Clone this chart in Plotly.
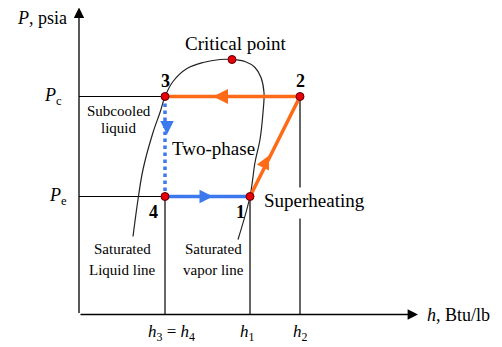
import plotly.graph_objects as go

# enthalpy / pressure in schematic units (no numeric scale on the chart)
dome_h = [54, 59, 64, 74, 81, 86, 94, 108, 124, 141, 153, 166, 176, 182, 185, 184, 181, 176, 171, 159]
dome_p = [78, 115, 145, 182, 202, 218, 233, 246, 252, 255, 255, 253, 247, 237, 222, 202, 175, 152, 118, 75]

state_labels = ["1", "2", "3", "4"]
state_h = [171, 221, 86, 86]
state_p = [118, 218, 218, 118]
crit_h, crit_p = 153, 255

h_max, p_max = 339, 307
gap_p = (127, 96)  # break in the h2 line for the "Superheating" label

ORANGE = "#ff6a17"
BLUE = "#3c78ee"
FONT = "Liberation Serif, Times New Roman, serif"

h1, h2, h3, h4 = state_h[0], state_h[1], state_h[2], state_h[3]
pe, pc = state_p[0], state_p[1]

fig = go.Figure()

# guide lines
gx = [0, h3, None, 0, h4, None, h4, h4, None, h1, h1, None, h2, h2, None, h2, h2]
gy = [pc, pc, None, pe, pe, None, pe, 0, None, pe, 0, None, pc, gap_p[0], None, gap_p[1], 0]
fig.add_trace(go.Scatter(x=gx, y=gy, mode="lines", line=dict(color="black", width=1.2),
                         hoverinfo="skip"))

# saturation dome
fig.add_trace(go.Scatter(x=dome_h, y=dome_p, mode="lines",
                         line=dict(color="#222", width=1.2, shape="spline", smoothing=1.0)))

# cycle
fig.add_trace(go.Scatter(x=[h3, h2, h1], y=[pc, pc, pe], mode="lines",
                         line=dict(color=ORANGE, width=3.5)))
fig.add_trace(go.Scatter(x=[h4, h1], y=[pe, pe], mode="lines",
                         line=dict(color=BLUE, width=3.5)))
fig.add_trace(go.Scatter(x=[h3, h4], y=[pc, pe], mode="lines",
                         line=dict(color=BLUE, width=3.5, dash="dot")))

# state points
fig.add_trace(go.Scatter(x=state_h + [crit_h], y=state_p + [crit_p], mode="markers",
                         marker=dict(size=8, color="#e8000a", line=dict(color="#5a0000", width=1))))

ann = []


def arrow(x0, y0, x1, y1, color, width, size):
    ann.append(dict(x=x1, y=y1, ax=x0, ay=y0, xref="x", yref="y", axref="x", ayref="y",
                    showarrow=True, arrowhead=2, arrowsize=size, arrowwidth=width,
                    arrowcolor=color, text="", standoff=0, startstandoff=0))


# axes
arrow(0, 0, h_max, 0, "black", 1.3, 1.6)
arrow(0, 0, 0, p_max, "black", 1.3, 1.6)

# direction arrows on the cycle
arrow(150, pc, 134, pc, ORANGE, 3, 1.0)
arrow(121, pe, 134, pe, BLUE, 3, 0.9)
arrow(h3 + 2, 192, h3 + 2, 180, BLUE, 3, 0.9)
arrow(184, 147, 190, 159, ORANGE, 3, 0.9)


def label(x, y, text, size=19, xanchor="center"):
    ann.append(dict(x=x, y=y, xref="x", yref="y", text=text, showarrow=False,
                    xanchor=xanchor, yanchor="middle", font=dict(family=FONT, size=size, color="black")))


label(-64, 297, "<i>P</i>, psia", size=18, xanchor="left")
label(-26, 218, "<i>P</i><sub>c</sub>", size=18)
label(-21, 118, "<i>P</i><sub>e</sub>", size=18)
label(157, 271, "Critical point")
label(h3, 234, "<b>3</b>", size=18)
label(h2, 234, "<b>2</b>", size=18)
label(h4 - 12, 103, "<b>4</b>", size=18)
label(h1 - 10, 103, "<b>1</b>", size=18)
label(40, 204, "Subcooled", size=15)
label(40, 187, "liquid", size=15)
label(134, 166, "Two-phase")
label(183, 114, "Superheating", xanchor="left")
label(43, 66, "Saturated", size=15)
label(43, 45, "Liquid line", size=15)
label(134, 66, "Saturated", size=15)
label(134, 45, "vapor line", size=15)
label(92, -18, "<i>h</i><sub>3</sub> = <i>h</i><sub>4</sub>", size=17)
label(168, -18, "<i>h</i><sub>1</sub>", size=17)
label(h2, -18, "<i>h</i><sub>2</sub>", size=17)
label(346, 0, "<i>h</i>, Btu/lb", size=18, xanchor="left")

# ranges shifted by the 8px default page margin so the drawing sits where the reference has it
fig.update_layout(
    width=502, height=347,
    margin=dict(l=0, r=0, t=0, b=0),
    paper_bgcolor="white", plot_bgcolor="white",
    showlegend=False,
    xaxis=dict(visible=False, range=[-71, 431], fixedrange=True),
    yaxis=dict(visible=False, range=[-40.5, 306.5], fixedrange=True),
    annotations=ann,
)

fig.write_html("out.html")
